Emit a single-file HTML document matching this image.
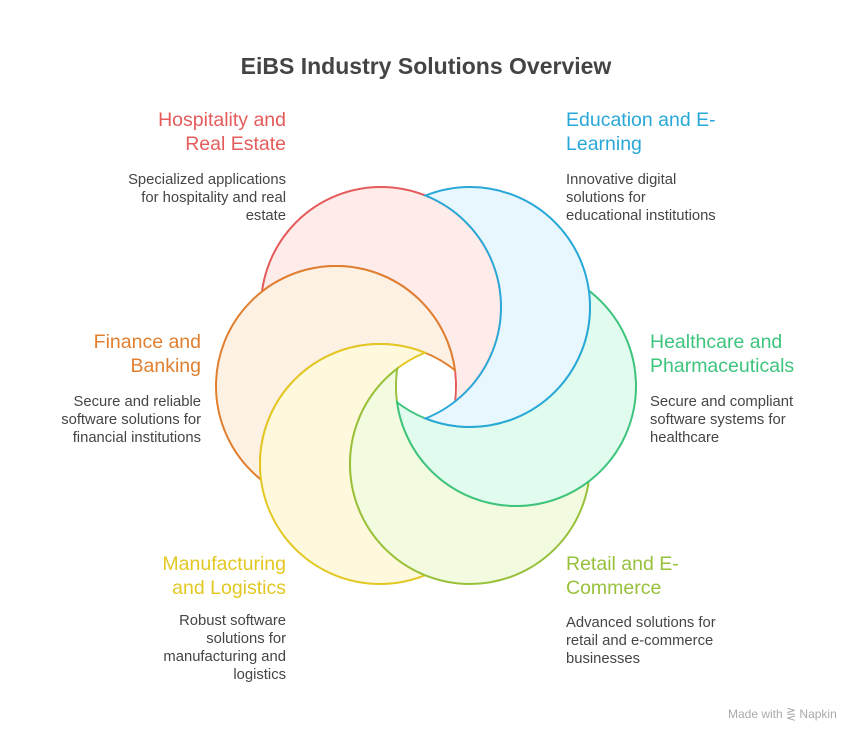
<!DOCTYPE html>
<html><head><meta charset="utf-8">
<style>
html,body{margin:0;padding:0;background:#fff;}
body{width:852px;height:732px;position:relative;overflow:hidden;font-family:"Liberation Sans",sans-serif;}
.t{position:absolute;white-space:nowrap;}
.h{font-size:19.5px;line-height:24px;}
.d{font-size:14.8px;line-height:18px;color:#454545;}
.r{text-align:right;}
</style></head><body>
<svg width="852" height="732" style="position:absolute;left:0;top:0">
<defs>
<mask id="mR" maskUnits="userSpaceOnUse"><rect width="852" height="732" fill="#000"/><circle cx="381" cy="307" r="122" fill="#fff"/><circle cx="336" cy="386" r="119" fill="#000"/></mask>
<mask id="mO" maskUnits="userSpaceOnUse"><rect width="852" height="732" fill="#000"/><circle cx="336" cy="386" r="122" fill="#fff"/><circle cx="380" cy="464" r="119" fill="#000"/></mask>
<mask id="mY" maskUnits="userSpaceOnUse"><rect width="852" height="732" fill="#000"/><circle cx="380" cy="464" r="122" fill="#fff"/><circle cx="470" cy="464" r="119" fill="#000"/></mask>
<mask id="mL" maskUnits="userSpaceOnUse"><rect width="852" height="732" fill="#000"/><circle cx="470" cy="464" r="122" fill="#fff"/><circle cx="516" cy="386" r="119" fill="#000"/></mask>
<mask id="mG" maskUnits="userSpaceOnUse"><rect width="852" height="732" fill="#000"/><circle cx="516" cy="386" r="122" fill="#fff"/><circle cx="470" cy="307" r="119" fill="#000"/></mask>
<mask id="mB" maskUnits="userSpaceOnUse"><rect width="852" height="732" fill="#000"/><circle cx="470" cy="307" r="122" fill="#fff"/><circle cx="381" cy="307" r="119" fill="#000"/></mask>
<clipPath id="cR"><circle cx="381" cy="307" r="120"/></clipPath>
<clipPath id="cO"><circle cx="336" cy="386" r="120"/></clipPath>
<clipPath id="cY"><circle cx="380" cy="464" r="120"/></clipPath>
<clipPath id="cL"><circle cx="470" cy="464" r="120"/></clipPath>
<clipPath id="cG"><circle cx="516" cy="386" r="120"/></clipPath>
<clipPath id="cB"><circle cx="470" cy="307" r="120"/></clipPath>
</defs>
<g stroke-width="2">
<g mask="url(#mR)">
<circle cx="381" cy="307" r="120" fill="#fdecea" stroke="#e55b5b"/>
<circle cx="336" cy="386" r="120" fill="none" stroke="#e55b5b" clip-path="url(#cR)"/>
</g>
<g mask="url(#mO)">
<circle cx="336" cy="386" r="120" fill="#fdf1e3" stroke="#e07f30"/>
<circle cx="380" cy="464" r="120" fill="none" stroke="#e07f30" clip-path="url(#cO)"/>
</g>
<g mask="url(#mY)">
<circle cx="380" cy="464" r="120" fill="#fef9dd" stroke="#e3c823"/>
<circle cx="470" cy="464" r="120" fill="none" stroke="#e3c823" clip-path="url(#cY)"/>
</g>
<g mask="url(#mL)">
<circle cx="470" cy="464" r="120" fill="#f2fbe0" stroke="#98c13b"/>
<circle cx="516" cy="386" r="120" fill="none" stroke="#98c13b" clip-path="url(#cL)"/>
</g>
<g mask="url(#mG)">
<circle cx="516" cy="386" r="120" fill="#e2fbef" stroke="#3dc47d"/>
<circle cx="470" cy="307" r="120" fill="none" stroke="#3dc47d" clip-path="url(#cG)"/>
</g>
<g mask="url(#mB)">
<circle cx="470" cy="307" r="120" fill="#e8f7fd" stroke="#28a8d8"/>
<circle cx="381" cy="307" r="120" fill="none" stroke="#28a8d8" clip-path="url(#cB)"/>
</g>
</g>
</svg>
<div class="t" style="left:0;width:852px;top:52px;text-align:center;font-size:23px;line-height:28px;font-weight:bold;color:#444;">EiBS Industry Solutions Overview</div>

<div class="t h r" style="right:566px;top:108px;color:#e55b5b">Hospitality and<br>Real Estate</div>
<div class="t d r" style="right:566px;top:171px">Specialized applications<br>for hospitality and real<br>estate</div>

<div class="t h" style="left:566px;top:108px;color:#28a8d8">Education and E-<br>Learning</div>
<div class="t d" style="left:566px;top:171px">Innovative digital<br>solutions for<br>educational institutions</div>

<div class="t h r" style="right:651px;top:330px;color:#e07f30">Finance and<br>Banking</div>
<div class="t d r" style="right:651px;top:393px">Secure and reliable<br>software solutions for<br>financial institutions</div>

<div class="t h" style="left:650px;top:330px;color:#3dc47d">Healthcare and<br>Pharmaceuticals</div>
<div class="t d" style="left:650px;top:393px">Secure and compliant<br>software systems for<br>healthcare</div>

<div class="t h r" style="right:566px;top:552px;color:#e3c823">Manufacturing<br>and Logistics</div>
<div class="t d r" style="right:566px;top:612px">Robust software<br>solutions for<br>manufacturing and<br>logistics</div>

<div class="t h" style="left:566px;top:552px;color:#98c13b">Retail and E-<br>Commerce</div>
<div class="t d" style="left:566px;top:614px">Advanced solutions for<br>retail and e-commerce<br>businesses</div>

<div class="t" style="left:728px;top:706px;font-size:12px;line-height:16px;color:#aaa">Made with &#8923; Napkin</div>
</body></html>
